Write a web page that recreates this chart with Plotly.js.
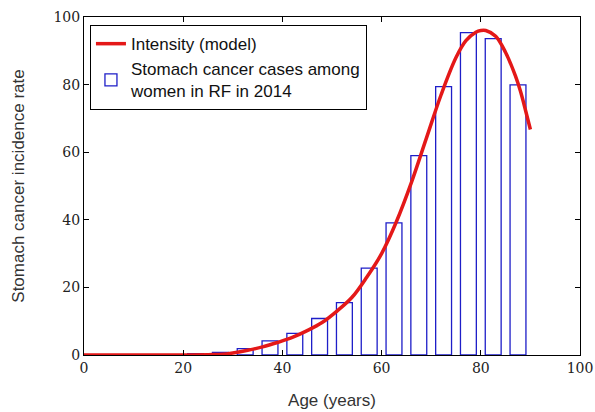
<!DOCTYPE html>
<html>
<head>
<meta charset="utf-8">
<script src="https://cdn.plot.ly/plotly-3.0.1.min.js"></script>
<style>html,body{margin:0;padding:0;background:#fff;}#chart{width:595px;height:412px;}</style>
</head>
<body>
<div id="chart"></div>
<script>
// Age group midpoints (years) and observed incidence (bars)
var ageGroups = [2.5, 7.5, 12.5, 17.5, 22.5, 27.5, 32.5, 37.5, 42.5, 47.5, 52.5, 57.5, 62.5, 67.5, 72.5, 77.5, 82.5, 87.5];
var incidence = [0.1, 0.1, 0.1, 0.1, 0.4, 0.8, 1.9, 4.2, 6.4, 10.8, 15.5, 25.7, 39.1, 59.0, 79.4, 95.4, 93.6, 79.9];

// Model intensity curve
var modelAge = [0, 5, 10, 15, 20, 25, 28, 30, 33, 36, 39, 42, 45, 48, 51, 54, 57, 60, 63, 66, 69, 72, 75, 77, 79, 80, 81, 83, 85, 87, 88, 89, 90];
var modelVal = [0, 0, 0, 0, 0, 0.1, 0.2, 0.6, 1.4, 2.4, 3.7, 5.2, 7.2, 9.6, 13, 17, 23, 30, 39.5, 51, 64, 77, 88, 93, 95.5, 96, 96, 94.3, 89.5, 82.5, 78, 72.5, 66.7];

var xTicks = [0, 20, 40, 60, 80, 100];
var yTicks = [0, 20, 40, 60, 80, 100];

var traces = [
  {
    type: 'scatter', mode: 'lines', x: modelAge, y: modelVal,
    name: 'Intensity (model)',
    line: {color: 'rgb(228,24,24)', width: 3.5, shape: 'spline'}
  },
  {
    type: 'bar', x: ageGroups, y: incidence, width: 3.2,
    name: 'Stomach cancer cases among<br>women in RF in 2014',
    marker: {color: 'rgba(0,0,0,0)', line: {color: 'rgb(30,30,200)', width: 1.3}}
  }
];

function axisBase() {
  return {
    showgrid: false, zeroline: false, showline: true, linecolor: '#000', linewidth: 1,
    mirror: 'ticks', ticks: 'inside', ticklen: 5, tickcolor: '#000',
    tickfont: {family: 'DejaVu Serif', size: 14, color: '#222'}
  };
}

var layout = {
  width: 595, height: 412,
  margin: {l: 84, r: 15, t: 17, b: 57},
  paper_bgcolor: '#fff', plot_bgcolor: '#fff',
  showlegend: true,
  barmode: 'overlay',
  xaxis: Object.assign(axisBase(), {
    range: [0, 100], tickvals: xTicks, ticktext: xTicks.map(String),
    title: {text: 'Age (years)', font: {family: 'Liberation Sans', size: 17, color: '#333'}, standoff: 19}
  }),
  yaxis: Object.assign(axisBase(), {
    range: [0, 100], tickvals: yTicks, ticktext: yTicks.map(String),
    title: {text: 'Stomach cancer incidence rate', font: {family: 'Liberation Sans', size: 17, color: '#333'}, standoff: 24}
  }),
  legend: {
    x: 0.012, y: 0.976, xanchor: 'left', yanchor: 'top',
    bgcolor: '#fff', bordercolor: '#000', borderwidth: 1,
    font: {family: 'Liberation Sans', size: 17, color: '#111'},
    tracegroupgap: 0, itemwidth: 30
  }
};

Plotly.newPlot('chart', traces, layout, {displayModeBar: false, staticPlot: true});
</script>
</body>
</html>
